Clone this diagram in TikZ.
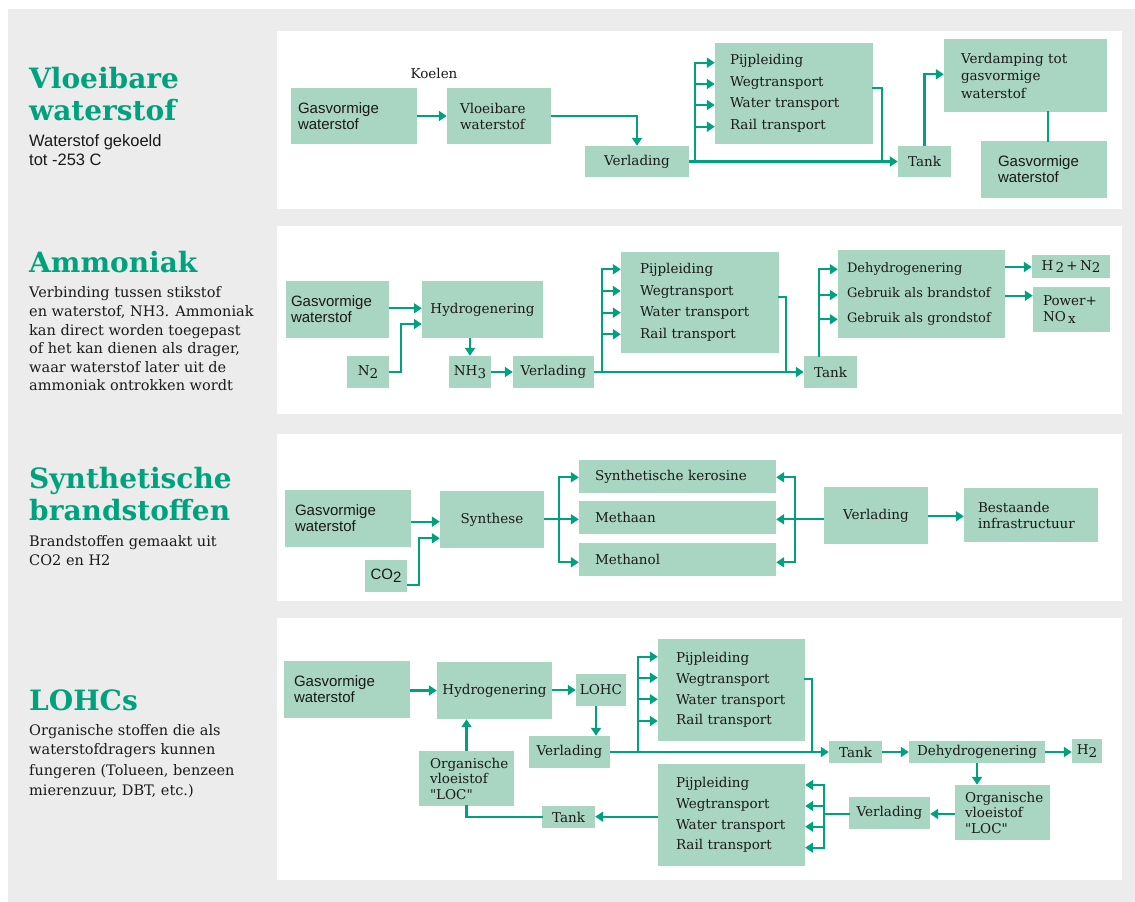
\documentclass[tikz,border=0pt]{standalone}
\usepackage{fontspec}
\setmainfont{DejaVu Serif}
\newfontfamily\sansf{Liberation Sans}
\usetikzlibrary{arrows.meta}
\definecolor{grn}{HTML}{00A27E}
\definecolor{boxc}{HTML}{A9D5C3}
\definecolor{bgc}{HTML}{ECECEC}
\definecolor{txt}{HTML}{1A1A1A}
\newcommand\sub[1]{\raisebox{-0.4ex}{#1}}
% centred box: [style]{name}{x1}{y1}{x2}{y2}{text}
\newcommand\bx[7][]{%
  \node[box,minimum width={(#5-#3)*1pt},minimum height={(#6-#4)*1pt},#1] (#2) at ({(#3+#5)/2},{(#4+#6)/2}) {#7};}
% left aligned box: [style]{name}{x1}{y1}{x2}{y2}{pad}{text}
\newcommand\lbx[8][]{%
  \pgfmathsetmacro\tw{#5-#3-2*#7}%
  \node[box,align=left,inner xsep=#7pt,text width=\tw pt,minimum width={(#5-#3)*1pt},minimum height={(#6-#4)*1pt},#1] (#2) at ({(#3+#5)/2},{(#4+#6)/2}) {#8};}
\begin{document}
\begin{tikzpicture}[x=1pt,y=-1pt,
  box/.style={fill=boxc,inner sep=0pt,text=txt,font=\fontsize{13.5}{16}\selectfont},
  sans/.style={font=\sansf\fontsize{15}{16}\selectfont},
  tr/.style={font=\fontsize{13.5}{21.5}\selectfont},
  trb/.style={font=\fontsize{13.5}{20.7}\selectfont},
  dh/.style={font=\fontsize{13}{25}\selectfont},
  vp/.style={font=\fontsize{13.5}{17.5}\selectfont},
  loc/.style={font=\fontsize{13.5}{15.5}\selectfont},
  ln/.style={draw=grn,line width=2.2pt,line cap=rect},
  arr/.style={draw=grn,line width=2.2pt,-{Triangle[length=8pt,width=10pt]}},
  ttl/.style={anchor=base west,inner sep=0pt,text=grn,font=\bfseries\fontsize{28}{33}\selectfont},
  bdy/.style={anchor=base west,inner sep=0pt,text=txt,font=\fontsize{14.5}{18}\selectfont},
  sbdy/.style={anchor=base west,inner sep=0pt,text=txt,font=\sansf\fontsize{16.5}{19}\selectfont}]
\useasboundingbox (0,0) rectangle (1135,902);
\fill[white] (0,0) rectangle (1135,902);
\fill[bgc] (8,9) rectangle (1135,902);
\fill[white] (277,31) rectangle (1122,209);
\fill[white] (277,226) rectangle (1122,413.5);
\fill[white] (277,434) rectangle (1122,600.5);
\fill[white] (277,618) rectangle (1122,880);

% ---------------- left texts
\node[ttl] (h1a) at (29,88) {Vloeibare};
\node[ttl] (h1b) at (29,120.7) {waterstof};
\node[sbdy] (s1a) at (29,146.7) {Waterstof gekoeld};
\node[sbdy] (s1b) at (29,165.7) {tot -253 C};

\node[ttl] (h2a) at (29,272.7) {Ammoniak};
\node[bdy] (s2a) at (29,297.7) {Verbinding tussen stikstof};
\node[bdy] (s2b) at (29,316.7) {en waterstof, NH3. Ammoniak};
\node[bdy] (s2c) at (29,335) {kan direct worden toegepast};
\node[bdy] (s2d) at (29,353.7) {of het kan dienen als drager,};
\node[bdy] (s2e) at (29,372.3) {waar waterstof later uit de};
\node[bdy] (s2f) at (29,390.7) {ammoniak ontrokken wordt};

\node[ttl] (h3a) at (29,488.3) {Synthetische};
\node[ttl] (h3b) at (29,520) {brandstoffen};
\node[bdy] (s3a) at (29,546.7) {Brandstoffen gemaakt uit};
\node[bdy] (s3b) at (29,565.7) {CO2 en H2};

\node[ttl] (h4a) at (29,710) {LOHCs};
\node[bdy] (s4a) at (29,735) {Organische stoffen die als};
\node[bdy] (s4b) at (29,754.3) {waterstofdragers kunnen};
\node[bdy] (s4c) at (29,775.7) {fungeren (Tolueen, benzeen};
\node[bdy] (s4d) at (29,795) {mierenzuur, DBT, etc.)};

% ---------------- panel 1
\node[inner sep=0pt,text=txt,font=\fontsize{13.5}{16}\selectfont] (koelen) at (434,73) {Koelen};
\lbx[sans]{g1}{291}{88}{417}{144}{7}{Gasvormige\\waterstof}
\lbx{v1}{447}{88}{551}{144}{13}{Vloeibare\\waterstof}
\bx{vd1}{585}{146}{689}{177}{Verlading}
\lbx[tr]{t1}{715}{43}{873}{144}{15}{Pijpleiding\\Wegtransport\\Water transport\\Rail transport}
\bx{tk1}{898}{146}{951}{177}{Tank}
\lbx[vp]{vp1}{944}{39}{1107}{112}{17}{Verdamping tot\\gasvormige\\waterstof}
\lbx[sans]{g1b}{981}{141}{1107}{198}{17}{Gasvormige\\waterstof}
\coordinate (b1) at (695,161.5);
\coordinate (c1) at (882,161.5);
\draw[arr] (g1.east |- 0,116) -- (v1.west |- 0,116);
\draw[arr] (v1.east |- 0,116) -| (vd1.north);
\draw[arr] (vd1.east) -- (tk1.west);
\draw[ln] (b1) -- (695,62.7);
\foreach \yy in {62.7,84,105,126.7} \draw[arr] (b1 |- 0,\yy) -- (t1.west |- 0,\yy);
\draw[ln] (t1.east |- 0,88.3) -| (c1);
\draw[arr] (tk1.north) |- (vp1.west |- 0,74.3);
\draw[ln] (vp1.south -| 1047.7,0) -- (g1b.north -| 1047.7,0);

% ---------------- panel 2
\lbx[sans]{g2}{286}{281}{389}{338}{5}{Gasvormige\\waterstof}
\bx{hy2}{422}{281}{543}{338}{Hydrogenering}
\bx{n2}{347}{356}{389}{388}{N\sub{2}}
\bx{nh3}{449}{356}{491}{388}{NH\sub{3}}
\bx{vd2}{513}{356}{594}{388}{Verlading}
\lbx[tr]{t2}{621}{252}{779}{353}{19}{Pijpleiding\\Wegtransport\\Water transport\\Rail transport}
\bx{tk2}{804}{356}{857}{388}{Tank}
\lbx[dh]{dh2}{838}{250}{1005}{338}{9}{Dehydrogenering\\Gebruik als brandstof\\Gebruik als grondstof}
\bx{hn2}{1032}{255}{1110}{278}{H\,\sub{2}\,+\,N\sub{2}}
\lbx{pw2}{1033}{287}{1110}{332}{10}{Power+\\NO\,\sub{x}}
\coordinate (b2) at (601.7,372);
\coordinate (c2) at (785.7,372);
\coordinate (d2) at (819.3,356);
\draw[arr] (g2.east |- 0,308.3) -- (hy2.west |- 0,308.3);
\draw[arr] (n2.east) -| (401,324) -- (hy2.west |- 0,324);
\draw[arr] (hy2.south -| nh3.north) -- (nh3.north);
\draw[arr] (nh3.east) -- (vd2.west);
\draw[arr] (vd2.east) -- (tk2.west);
\draw[ln] (b2) -- (601.7,269.3);
\foreach \yy in {269.3,291,312.7,334.3} \draw[arr] (b2 |- 0,\yy) -- (t2.west |- 0,\yy);
\draw[ln] (t2.east |- 0,297.3) -| (c2);
\draw[ln] (d2) -- (819.3,269.3);
\foreach \yy in {269.3,295,319.3} \draw[arr] (d2 |- 0,\yy) -- (dh2.west |- 0,\yy);
\draw[arr] (dh2.east |- 0,267) -- (hn2.west |- 0,267);
\draw[arr] (dh2.east |- 0,295.7) -- (pw2.west |- 0,295.7);

% ---------------- panel 3
\lbx[sans]{g3}{285}{490}{411}{547}{10}{Gasvormige\\waterstof}
\bx{sy3}{440}{491}{544}{548}{Synthese}
\bx[sans]{co3}{365}{560}{407}{592}{CO\sub{2}}
\lbx{ke3}{579}{460}{776}{493}{16}{Synthetische kerosine}
\lbx{me3}{579}{501}{776}{534}{16}{Methaan}
\lbx{ml3}{579}{543}{776}{576}{16}{Methanol}
\bx{vd3}{824}{487}{928}{544}{Verlading}
\lbx{bs3}{964}{488}{1098}{542}{14}{Bestaande\\infrastructuur}
\coordinate (b3) at (559.3,519.3);
\coordinate (c3) at (795,519.3);
\draw[arr] (g3.east |- 0,521.7) -- (sy3.west |- 0,521.7);
\draw[arr] (co3.east |- 0,585) -| (419.3,538.3) -- (sy3.west |- 0,538.3);
\draw[arr] (sy3.east |- b3) -- (me3.west |- b3);
\draw[ln] (559.3,477.3) -- (559.3,562.3);
\draw[arr] (b3 |- 0,477.3) -- (ke3.west |- 0,477.3);
\draw[arr] (b3 |- 0,562.3) -- (ml3.west |- 0,562.3);
\draw[arr] (vd3.west |- c3) -- (me3.east |- c3);
\draw[ln] (795,477.3) -- (795,562.3);
\draw[arr] (c3 |- 0,477.3) -- (ke3.east |- 0,477.3);
\draw[arr] (c3 |- 0,562.3) -- (ml3.east |- 0,562.3);
\draw[arr] (vd3.east |- 0,516.3) -- (bs3.west |- 0,516.3);

% ---------------- panel 4
\lbx[sans]{g4}{284}{661}{410}{718}{10}{Gasvormige\\waterstof}
\bx{hy4}{437}{662}{552}{719}{Hydrogenering}
\bx{lo4}{576}{674}{626}{706}{LOHC}
\bx{vd4}{529}{736}{610}{768}{Verlading}
\lbx[trb]{t4a}{658}{639}{805}{741}{18}{Pijpleiding\\Wegtransport\\Water transport\\Rail transport}
\bx{tk4}{829}{741}{882}{763}{Tank}
\bx{dh4}{909}{741}{1045}{763}{Dehydrogenering}
\bx{h24}{1072}{739}{1102}{763}{H\sub{2}}
\lbx[loc]{lb4}{955}{785}{1050}{840}{10}{Organische\\vloeistof\\\textquotedbl LOC\textquotedbl}
\bx{vb4}{849}{797}{930}{829}{Verlading}
\lbx[trb]{t4b}{658}{764}{805}{866}{18}{Pijpleiding\\Wegtransport\\Water transport\\Rail transport}
\bx{tb4}{542}{806}{595}{828}{Tank}
\lbx[loc]{la4}{419}{751}{514}{806}{11}{Organische\\vloeistof\\\textquotedbl LOC\textquotedbl}
\coordinate (b4) at (637.7,752);
\coordinate (c4) at (812.3,752);
\coordinate (d4) at (824,814.3);
\draw[arr] (g4.east |- 0,690.5) -- (hy4.west |- 0,690.5);
\draw[arr] (hy4.east |- lo4.west) -- (lo4.west);
\draw[arr] (lo4.south -| 596,0) -- (vd4.north -| 596,0);
\draw[arr] (vd4.east) -- (tk4.west);
\draw[ln] (b4) -- (637.7,656.7);
\foreach \yy in {656.7,677.7,699.3,721} \draw[arr] (b4 |- 0,\yy) -- (t4a.west |- 0,\yy);
\draw[ln] (t4a.east |- 0,679) -| (c4);
\draw[arr] (tk4.east) -- (dh4.west);
\draw[arr] (dh4.east) -- (h24.west |- dh4.east);
\draw[arr] (dh4.south) -- (dh4.south |- lb4.north);
\draw[arr] (lb4.west |- 0,814) -- (vb4.east |- 0,814);
\draw[ln] (vb4.west |- d4) -- (d4);
\draw[ln] (824,785) -- (824,847.7);
\foreach \yy in {785,806,826.7,847.7} \draw[arr] (d4 |- 0,\yy) -- (t4b.east |- 0,\yy);
\draw[arr] (t4b.west |- 0,816.7) -- (tb4.east |- 0,816.7);
\draw[ln] (tb4.west |- 0,816.7) -| (la4.south);
\draw[arr] (la4.north) -- (la4.north |- hy4.south);
\end{tikzpicture}
\end{document}
